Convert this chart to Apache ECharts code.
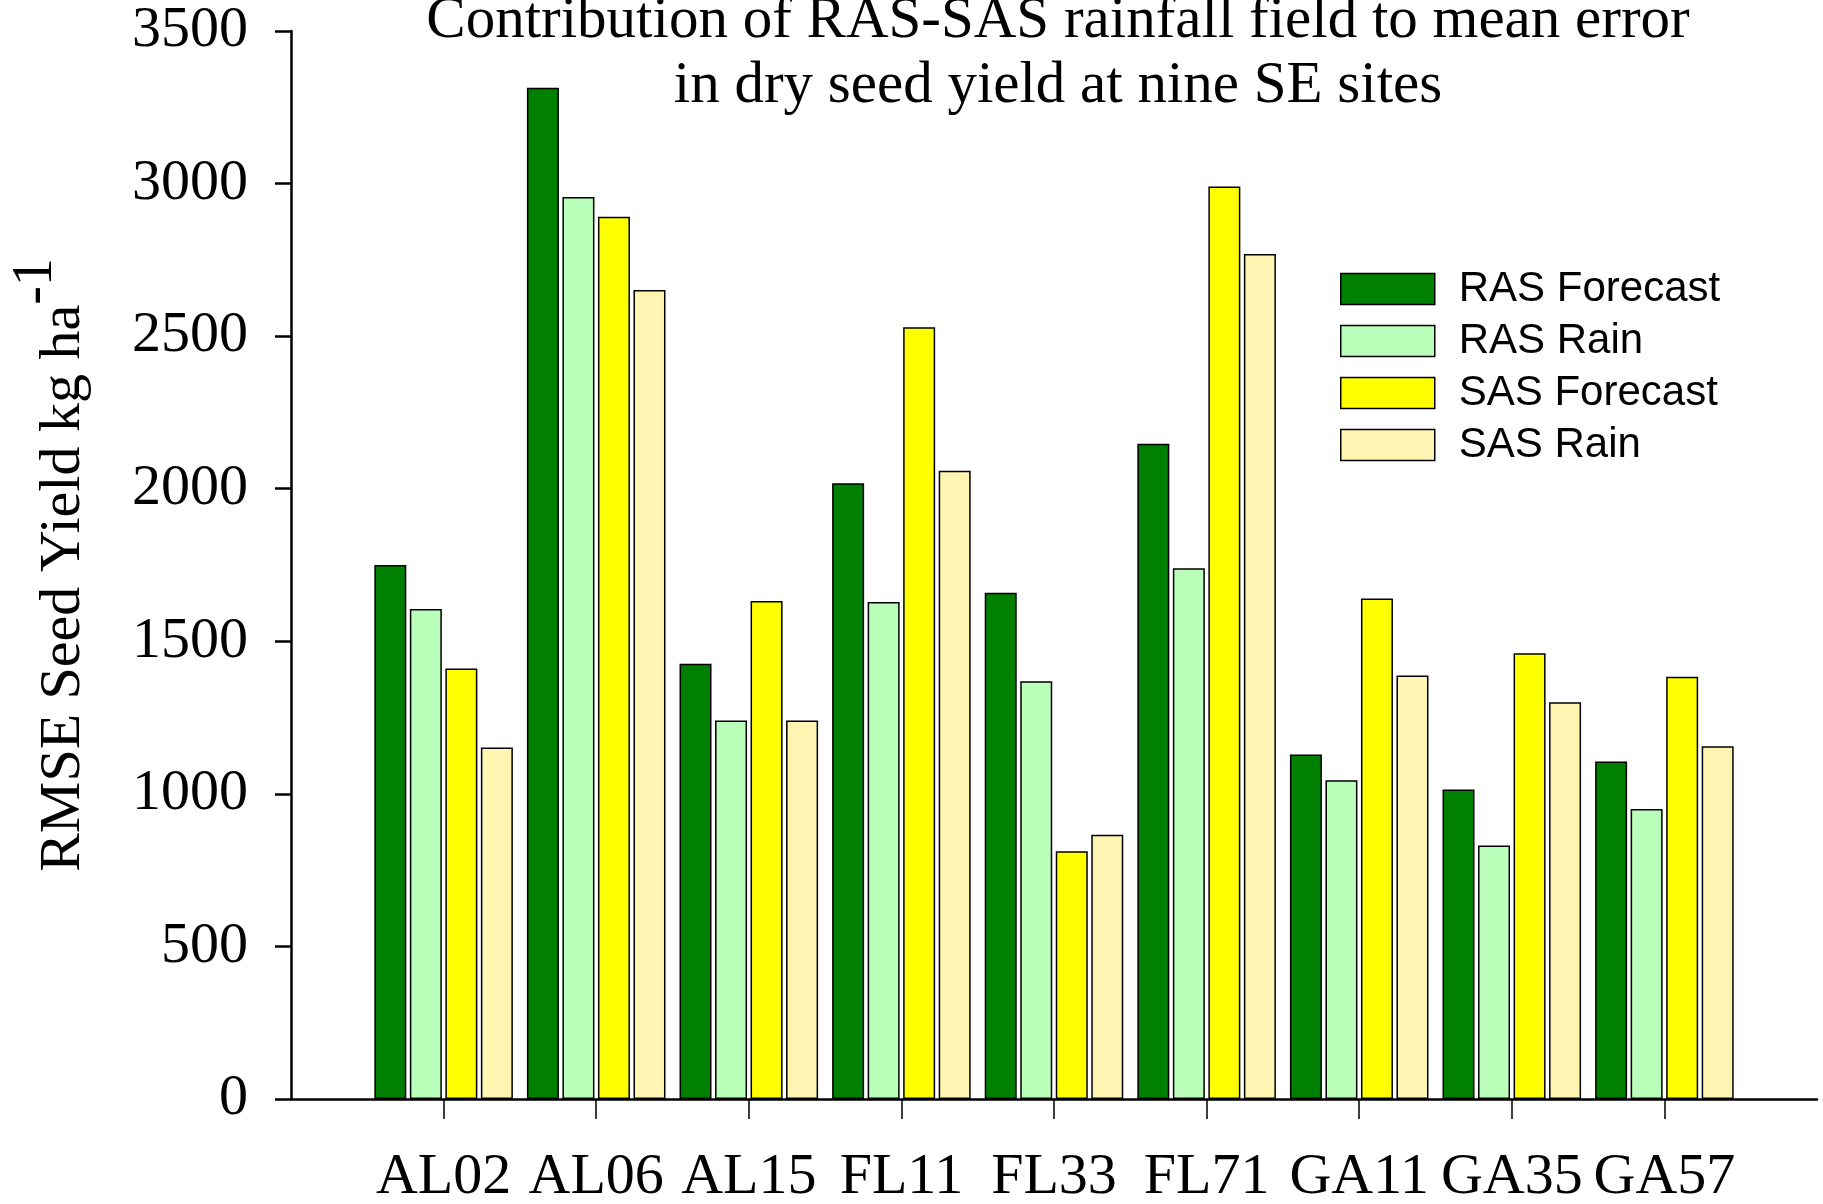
<!DOCTYPE html>
<html>
<head>
<meta charset="utf-8">
<script src="https://cdn.jsdelivr.net/npm/echarts@6/dist/echarts.min.js"></script>
<style>
  html, body { margin: 0; padding: 0; background: #ffffff; }
  #chart { width: 1823px; height: 1204px; }
</style>
</head>
<body>
<div id="chart"></div>
<script>
// Sites along the x axis
const sites = ['AL02', 'AL06', 'AL15', 'FL11', 'FL33', 'FL71', 'GA11', 'GA35', 'GA57'];

// RMSE of dry seed yield (kg/ha) for each rainfall field
const rasForecast = [1750, 3314, 1426, 2018, 1659, 2147, 1129, 1014, 1106];
const rasRain     = [1606, 2956, 1240, 1629, 1369, 1739, 1045,  831,  950];
const sasForecast = [1411, 2891, 1632, 2529,  812, 2990, 1640, 1461, 1384];
const sasRain     = [1152, 2651, 1240, 2059,  866, 2769, 1388, 1300, 1156];

// Y axis ticks
const yTicks = [0, 500, 1000, 1500, 2000, 2500, 3000, 3500];

const seriesNames  = ['RAS Forecast', 'RAS Rain', 'SAS Forecast', 'SAS Rain'];
const seriesColors = ['#008000', '#b9ffb9', '#ffff00', '#fff5b3'];
const seriesValues = [rasForecast, rasRain, sasForecast, sasRain];

// one empty slot on each side so the sites sit half a band in from the axis ends
const axisCats = [''].concat(sites, ['']);
const pad = arr => [null].concat(arr, [null]);

const serif = 'Liberation Serif';
const sans = 'Liberation Sans';

const chart = echarts.init(document.getElementById('chart'), null, { renderer: 'canvas' });

chart.setOption({
  animation: false,
  backgroundColor: '#ffffff',
  title: {
    text: 'Contribution of RAS-SAS rainfall field to mean error\nin dry seed yield at nine SE sites',
    left: 1058,
    top: -11,
    padding: 0,
    textAlign: 'center',
    textStyle: {
      fontFamily: serif,
      fontSize: 59,
      lineHeight: 65,
      fontWeight: 'normal',
      color: '#000'
    }
  },
  legend: {
    data: seriesNames,
    orient: 'vertical',
    left: 1340,
    top: 268,
    padding: 0,
    itemWidth: 94,
    itemHeight: 31,
    itemGap: 10,
    icon: 'rect',
    itemStyle: { borderColor: '#000', borderWidth: 1.5 },
    textStyle: {
      fontFamily: sans,
      fontSize: 42,
      color: '#000',
      padding: [0, 0, 0, 19]
    }
  },
  grid: {
    left: 291,
    right: 6,
    top: 31,
    bottom: 105,
    containLabel: false,
    outerBoundsMode: 'none'
  },
  xAxis: {
    type: 'category',
    data: axisCats,
    boundaryGap: false,
    axisLine: { show: true, lineStyle: { color: '#000', width: 2.5 } },
    axisTick: {
      show: true,
      interval: (i) => i > 0 && i < axisCats.length - 1,
      length: 20,
      lineStyle: { color: '#000', width: 1.5 }
    },
    axisLabel: {
      interval: 0,
      margin: 50,
      fontFamily: serif,
      fontSize: 58,
      color: '#000'
    },
    splitLine: { show: false }
  },
  yAxis: {
    type: 'value',
    min: yTicks[0],
    max: yTicks[yTicks.length - 1],
    interval: yTicks[1] - yTicks[0],
    name: '{a|RMSE Seed Yield kg ha}{b|-1}',
    nameLocation: 'middle',
    nameGap: 198,
    nameRotate: 90,
    nameTextStyle: {
      rich: {
        a: { fontFamily: serif, fontSize: 58, color: '#000', padding: [27, 0, 0, 0] },
        b: { fontFamily: serif, fontSize: 56, color: '#000', verticalAlign: 'top' }
      }
    },
    axisLine: { show: true, lineStyle: { color: '#000', width: 2.5 } },
    axisTick: { show: true, length: 16, lineStyle: { color: '#000', width: 2.5 } },
    axisLabel: {
      margin: 43,
      fontFamily: serif,
      fontSize: 58,
      color: '#000',
      formatter: (v) => String(v)
    },
    splitLine: { show: false }
  },
  series: seriesNames.map((name, k) => ({
    name: name,
    type: 'bar',
    data: pad(seriesValues[k]),
    barWidth: 32,
    barGap: '11%',
    itemStyle: {
      color: seriesColors[k],
      borderColor: '#000',
      borderWidth: 1.5
    }
  }))
});
</script>
</body>
</html>
